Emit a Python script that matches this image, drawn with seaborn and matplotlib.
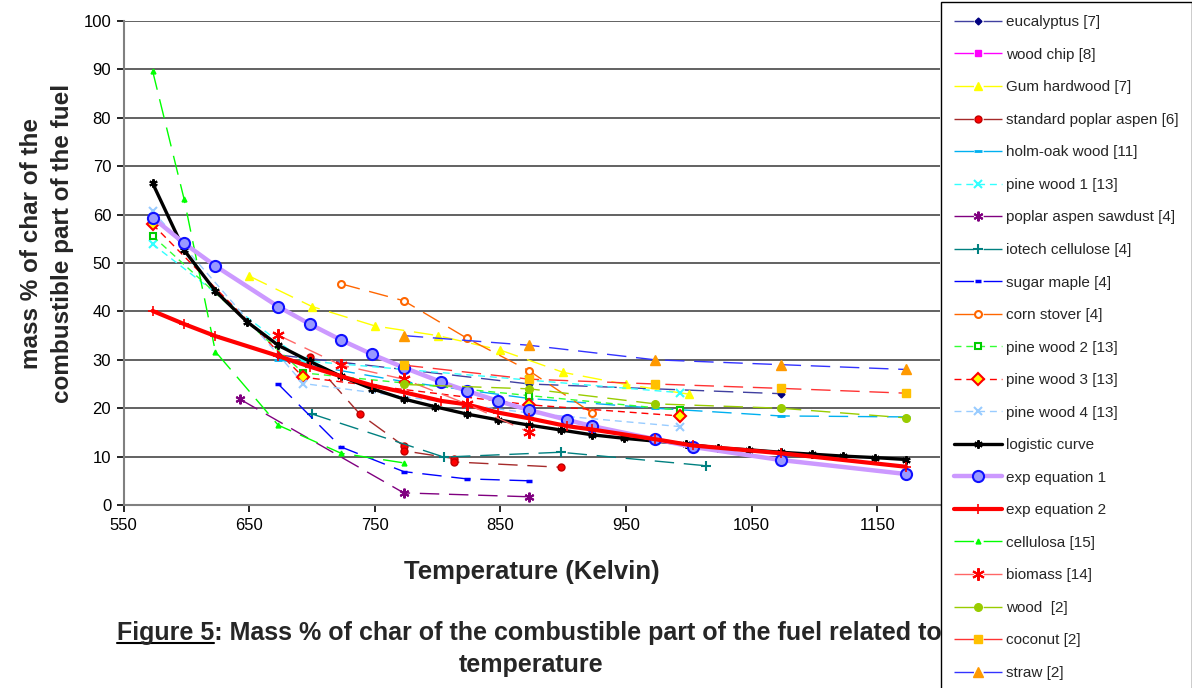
import matplotlib
matplotlib.use("Agg")
import matplotlib.pyplot as plt
import seaborn as sns
from matplotlib.lines import Line2D

# ---- measured char yields (temperature in K, mass % of combustible part) ----
euc_T = [673, 873, 1073]
euc_v = [31.0, 25.0, 23.0]
chip_T = []
chip_v = []
gum_T = [650, 700, 750, 800, 850, 900, 950, 1000]
gum_v = [47.3, 41.0, 37.0, 35.0, 32.0, 27.4, 24.9, 22.9]
aspen_T = [698, 738, 773, 773, 813, 813, 898]
aspen_v = [30.5, 18.8, 12.2, 11.2, 9.6, 8.9, 7.8]
holm_T = [673, 773, 873, 973, 1073, 1173]
holm_v = [30.0, 25.5, 22.0, 20.0, 18.4, 18.2]
pine_T = [573, 693, 873, 993]
pine1_v = [53.9, 29.8, 25.8, 23.2]
pine2_v = [55.6, 27.3, 22.6, 19.6]
pine3_v = [58.0, 26.4, 20.7, 18.4]
pine4_v = [60.8, 25.1, 19.0, 16.2]
sawdust_T = [643, 773, 873]
sawdust_v = [21.8, 2.5, 1.7]
iotech_T = [700, 805, 898, 1014]
iotech_v = [18.8, 9.9, 10.9, 8.1]
maple_T = [673, 723, 773, 823, 873]
maple_v = [25.0, 12.0, 6.9, 5.4, 5.0]
corn_T = [723, 773, 823, 873, 923]
corn_v = [45.7, 42.2, 34.5, 27.7, 19.0]
cellulosa_T = [573, 598, 623, 673, 723, 773]
cellulosa_v = [89.7, 63.3, 31.7, 16.5, 10.7, 8.7]
biomass_T = [673, 723, 773, 823, 873]
biomass_v = [35.1, 28.9, 26.0, 20.9, 15.0]
ref2_T = [773, 873, 973, 1073, 1173]
wood_v = [24.9, 24.0, 20.9, 20.0, 18.0]
coconut_v = [28.9, 26.0, 25.0, 24.1, 23.1]
straw_v = [35.0, 33.0, 30.0, 29.0, 28.0]

# ---- model curves ----
logistic_T = [573, 598, 623, 648, 673, 698, 723, 748, 773, 798, 823, 848, 873,
              898, 923, 948, 973, 998, 1023, 1048, 1073, 1098, 1123, 1148, 1173]
logistic_v = [66.5, 52.7, 44.2, 37.9, 33.0, 29.7, 26.6, 24.0, 21.9, 20.3, 18.8,
              17.6, 16.5, 15.5, 14.5, 13.8, 13.2, 12.6, 11.8, 11.4, 10.9, 10.5,
              10.1, 9.8, 9.4]
exp_T = [573, 598, 623, 673, 698, 723, 748, 773, 803, 823, 848, 873, 903, 923,
         973, 1003, 1073, 1173]
exp1_v = [59.4, 54.1, 49.4, 41.0, 37.4, 34.1, 31.1, 28.4, 25.4, 23.6, 21.5,
          19.6, 17.6, 16.3, 13.6, 12.0, 9.3, 6.4]
exp2_v = [40.1, 37.4, 34.9, 30.8, 28.6, 26.6, 24.7, 23.3, 21.5, 20.8, 19.1,
          17.9, 16.3, 15.6, 13.6, 12.3, 10.7, 7.9]

x_ticks = [550, 650, 750, 850, 950, 1050, 1150]
y_ticks = [0, 10, 20, 30, 40, 50, 60, 70, 80, 90, 100]

sns.set_theme(style="white")
plt.rcParams["font.family"] = ["Liberation Sans", "DejaVu Sans"]

W, H = 1192, 688
fig = plt.figure(figsize=(W / 100, H / 100), dpi=100)
ax = fig.add_axes([123.7 / W, 1 - 505 / H, (940 - 123.7) / W, (505 - 21) / H])

LONG = (0, (14, 7))
SHORT = (0, (5, 3.5))
STAR = (6, 2, 0)

handles = []


def series(T, v, label, color, marker, ms, mfc=None, mec=None, lw=1.0,
           ls=LONG, mew=1.0, z=2):
    style = dict(color=color, linestyle=ls, lw=lw, marker=marker, markersize=ms,
                 markerfacecolor=mfc if mfc is not None else color,
                 markeredgecolor=mec if mec is not None else color,
                 markeredgewidth=mew, zorder=z)
    if len(T):
        n = len(ax.lines)
        sns.lineplot(x=T, y=v, ax=ax, sort=False, estimator=None, legend=False,
                     **style)
        line = ax.lines[n]
    else:
        line, = ax.plot(T, v, **style)
    line.set_label(label)
    handles.append(line)


series(euc_T, euc_v, "eucalyptus [7]", "#4040A0", "D", 3.5,
       mfc="#000080", mec="#000080")
series(chip_T, chip_v, "wood chip [8]", "#FF00FF", "s", 4.5)
series(gum_T, gum_v, "Gum hardwood [7]", "#FFFF00", "^", 6)
series(aspen_T, aspen_v, "standard poplar aspen [6]", "#A52A2A", "o", 5,
       mfc="#FF0000", mec="#C00000")
series(holm_T, holm_v, "holm-oak wood [11]", "#00B0F0", "_", 6, mew=2)
series(pine_T, pine1_v, "pine wood 1 [13]", "#33FFFF", "x", 6, ls=SHORT, mew=1.5)
series(sawdust_T, sawdust_v, "poplar aspen sawdust [4]", "#800080", STAR, 7, mew=1.5)
series(iotech_T, iotech_v, "iotech cellulose [4]", "#008080", "+", 7, mew=1.5)
series(maple_T, maple_v, "sugar maple [4]", "#0000FF", "_", 5, mew=2.5)
series(corn_T, corn_v, "corn stover [4]", "#FF6600", "o", 5, mfc="white", mew=1.5)
series(pine_T, pine2_v, "pine wood 2 [13]", "#33FF33", "s", 5, mfc="white",
       mec="#00CC00", ls=SHORT, mew=1.5)
series(pine_T, pine3_v, "pine wood 3 [13]", "#FF0000", "D", 6, mfc="#FFFF00",
       ls=SHORT, mew=1.5)
series(pine_T, pine4_v, "pine wood 4 [13]", "#99CCFF", "x", 6, ls=SHORT, mew=1.5)
series(logistic_T, logistic_v, "logistic curve", "#000000", STAR, 6, lw=2.4,
       ls="-", mew=1.5, z=3)
series(exp_T, exp1_v, "exp equation 1", "#CC99FF", "o", 8, mfc="#9999FF",
       mec="#1010FF", lw=3.2, ls="-", mew=1.5, z=3)
series(exp_T, exp2_v, "exp equation 2", "#FF0000", "+", 7, lw=3.0, ls="-",
       mew=1.2, z=3)
series(cellulosa_T, cellulosa_v, "cellulosa [15]", "#00FF00", "^", 3.5)
series(biomass_T, biomass_v, "biomass [14]", "#FF6666", STAR, 9, mec="#FF0000",
       mew=1.5, z=4)
series(ref2_T, wood_v, "wood  [2]", "#99CC00", "o", 5.5, z=4)
series(ref2_T, coconut_v, "coconut [2]", "#FF3333", "s", 6, mfc="#FFC000",
       mec="#FFC000", z=4)
series(ref2_T, straw_v, "straw [2]", "#3333FF", "^", 6.5, mfc="#FF9900",
       mec="#FF9900", z=4)

ax.set_xlim(550, 1200)
ax.set_ylim(0, 100)
ax.set_xticks(x_ticks)
ax.set_yticks(y_ticks)
ax.tick_params(axis="both", labelsize=12, colors="black", direction="out",
               length=5, width=1.2, bottom=True, left=True, pad=4)
for tl in ax.get_xticklines() + ax.get_yticklines():
    tl.set_color("#808080")
ax.yaxis.grid(True, color="#555555", lw=1.3)
ax.xaxis.grid(False)
ax.set_axisbelow(True)
for side in ("top", "right"):
    ax.spines[side].set_visible(False)
for side in ("left", "bottom"):
    ax.spines[side].set_color("#808080")
    ax.spines[side].set_linewidth(1.5)

ax.set_xlabel("Temperature (Kelvin)", fontsize=18.5, fontweight="bold", labelpad=20)
ax.set_ylabel("mass % of char of the\ncombustible part of the fuel", fontsize=17.5,
              fontweight="bold", labelpad=7, linespacing=1.45, y=0.541)

# caption under the chart, with its label underlined
CAP = 18
cap1 = "Figure 5: Mass % of char of the combustible part of the fuel related to"
cap_x, cap_y = 117 / W, 1 - 640 / H
fig.text(cap_x, cap_y, cap1, fontsize=CAP, fontweight="bold",
         ha="left", va="baseline")
fig.text(531 / W, 1 - 672 / H, "temperature", fontsize=CAP, fontweight="bold",
         ha="center", va="baseline")
fig.canvas.draw()
probe = fig.text(cap_x, cap_y, "Figure 5", fontsize=CAP, fontweight="bold",
                 ha="left", va="baseline")
bb = probe.get_window_extent(fig.canvas.get_renderer())
probe.remove()
uy = cap_y - 3 / H
fig.add_artist(Line2D([bb.x0 / W, bb.x1 / W], [uy, uy], color="black", lw=1.5))

leg = fig.legend(handles=handles, labels=[h.get_label() for h in handles],
                 loc="upper left", bbox_to_anchor=(941 / W, 1 - 2 / H),
                 fontsize=11, frameon=True, fancybox=False, framealpha=1,
                 edgecolor="black", handlelength=3.1, handletextpad=0.3,
                 labelspacing=1.213, borderpad=0.87, borderaxespad=0)
leg.get_frame().set_linewidth(1.0)
leg.set_zorder(10)

fig.savefig("out.png", dpi=100)
